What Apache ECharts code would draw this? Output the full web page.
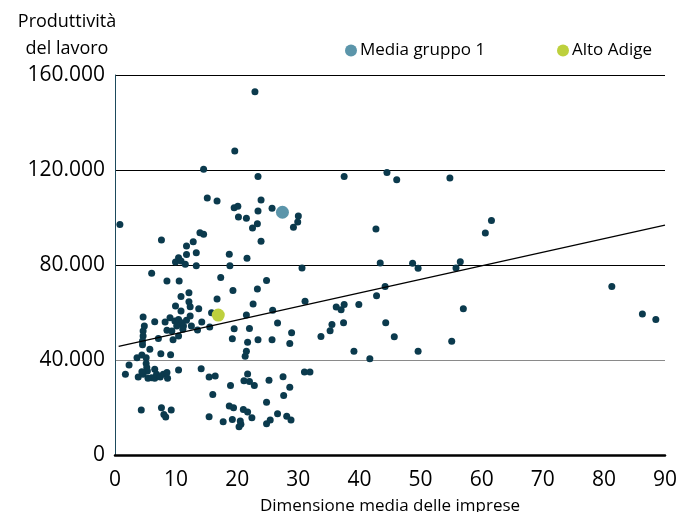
<!DOCTYPE html>
<html>
<head>
<meta charset="utf-8">
<script src="https://cdn.jsdelivr.net/npm/echarts@6/dist/echarts.min.js"></script>
<style>
html,body{margin:0;padding:0;background:#fff;}
#chart{width:680px;height:512px;}
</style>
</head>
<body>
<div id="chart"></div>
<script>
// Dimensione media delle imprese (x) and Produttività del lavoro (y)
const regionX = [22.9,19.6,14.5,23.4,15.1,16.7,23.9,19.5,20.1,23.4,25.7,30.0,29.9,29.2,20.2,21.5,23.3,22.5,23.9,0.8,7.6,13.9,14.5,12.8,11.7,37.5,44.5,46.1,54.8,42.7,61.6,60.6,
13.3,11.7,18.7,21.6,10.4,9.9,10.8,11.5,13.3,18.8,30.6,43.4,48.7,49.6,56.5,55.8,6.0,8.5,10.5,17.3,24.8,23.3,19.3,81.3,44.2,42.8,12.1,10.8,16.7,12.1,9.9,12.3,13.7,10.8,22.6,31.1,25.8,36.2,37.0,37.5,39.9,57.0,
15.8,4.6,6.5,8.2,9.0,9.8,10.4,10.9,11.7,12.3,10.1,11.2,8.5,9.3,10.4,11.1,12.5,14.2,13.5,15.5,7.1,9.5,4.6,4.6,4.5,4.8,21.5,26.6,19.5,22.0,28.9,35.5,35.2,33.7,19.2,21.7,23.4,25.7,28.6,37.4,44.3,45.7,55.1,86.3,88.5,4.5,5.7,7.5,9.1,21.5,21.3,39.1,41.7,49.6,
3.6,4.4,5.1,2.3,5.1,5.2,5.3,1.7,3.8,4.6,4.4,5.4,6.0,6.5,6.5,6.8,7.4,7.9,8.5,8.6,10.4,14.1,15.4,16.4,16.0,21.7,21.1,22.0,22.8,18.9,25.2,27.5,28.6,27.6,24.8,31.0,31.9,4.3,7.6,9.2,8.0,8.3,15.4,17.7,18.7,19.4,21.0,21.7,22.4,19.2,20.5,20.6,20.3,24.8,25.4,26.6,28.1,28.8];
const regionY = [153000,128000,120300,117300,108200,107000,107400,104100,104700,102700,103900,100600,98100,95900,100200,99700,97400,95600,90000,97100,90500,93600,92900,89800,88000,117300,118900,115900,116600,95200,98700,93500,
85200,84400,84500,82800,83100,81300,81700,80300,79700,79700,78700,80800,80700,78600,81400,78700,76500,73300,73300,74700,73500,69900,69300,70900,70900,67100,68300,66700,65700,64500,62700,62400,61600,60600,63600,64700,60900,62300,61200,63400,63400,61600,
59900,58100,56100,56000,57800,56400,57100,55700,56700,58500,54300,54300,52500,52200,50100,52900,54300,56000,52600,53900,49100,48500,52200,50100,48000,54300,58900,55600,53200,53300,51500,55000,52300,49900,49000,47500,48500,48500,47000,55700,55700,49800,47900,59400,57100,46400,44500,42600,42200,43700,41600,43700,40500,43700,
41000,42100,41000,37900,38500,36800,35400,34000,32800,34000,35100,32300,32500,36100,32300,34000,32800,34000,34700,32300,35800,36300,32800,33300,25500,34100,31300,30900,29300,29300,31500,33000,28500,25100,22200,34900,34900,18900,19900,18900,17100,16000,16100,14000,20600,19900,19200,18100,15700,15000,14300,12900,11900,13200,14700,17400,16300,14700];

const mediaX = [27.4];
const mediaY = [102200];
const altoX = [16.9];
const altoY = [58900];

const trendX = [0.6, 90];
const trendY = [45700, 96800];

const xTicks = [0,10,20,30,40,50,60,70,80,90];
const yTicks = [0,40000,80000,120000,160000];

const FONT = "'Open Sans', Roboto, sans-serif";

function pairs(xs, ys){ return xs.map((x,i)=>[x, ys[i]]); }
function itFmt(v){ return v === 0 ? '0' : String(v).replace(/\B(?=(\d{3})+(?!\d))/g, '.'); }

const chart = echarts.init(document.getElementById('chart'), null, {renderer:'canvas'});
chart.setOption({
  animation:false,
  backgroundColor:'#fff',
  textStyle:{fontFamily:FONT},
  title:{
    text:'Produttività\ndel lavoro',
    left:62, top:3, textAlign:'center',
    textStyle:{fontFamily:FONT, fontSize:18, fontWeight:'normal', color:'#000', lineHeight:27}
  },
  legend:[
    {data:['Media gruppo 1'], left:340, top:37, icon:'circle', itemWidth:12, itemHeight:12, itemGap:0,
     textStyle:{fontFamily:FONT, fontSize:17, color:'#000', padding:[0,0,0,-2]}},
    {data:['Alto Adige'], left:552, top:37, icon:'circle', itemWidth:12, itemHeight:12, itemGap:0,
     textStyle:{fontFamily:FONT, fontSize:17, color:'#000', padding:[0,0,0,-2]}}
  ],
  grid:{left:115, right:15, top:75, bottom:57, containLabel:false, outerBoundsMode:'none'},
  xAxis:{
    type:'value', min:0, max:90, interval:10,
    name:'Dimensione media delle imprese', nameLocation:'middle', nameGap:43,
    nameTextStyle:{fontFamily:FONT, fontSize:17, color:'#000'},
    axisLine:{show:true, onZero:false, lineStyle:{color:'#000', width:2.5}},
    axisTick:{show:false},
    axisLabel:{fontFamily:FONT, fontSize:21, color:'#000', margin:15},
    splitLine:{show:false}
  },
  yAxis:{
    type:'value', min:0, max:160000, interval:40000,
    axisLine:{show:true, lineStyle:{color:'#1d4a5c', width:1}},
    axisTick:{show:false},
    axisLabel:{fontFamily:FONT, fontSize:21, color:'#000', margin:10, formatter:itFmt},
    splitLine:{show:true, lineStyle:{color:['#000','#8a8a8a','#000','#000','#000'], width:1}}
  },
  series:[
    {name:'Regioni', type:'scatter', data:pairs(regionX, regionY), symbolSize:7,
     itemStyle:{color:'#0b3a4d', opacity:1}, z:3},
    {name:'Trend', type:'line', data:pairs(trendX, trendY), symbol:'none',
     lineStyle:{color:'#000', width:1.3}, z:4, silent:true},
    {name:'Media gruppo 1', type:'scatter', data:pairs(mediaX, mediaY), symbolSize:13,
     itemStyle:{color:'#5b95aa', opacity:1}, z:5},
    {name:'Alto Adige', type:'scatter', data:pairs(altoX, altoY), symbolSize:13,
     itemStyle:{color:'#bdd03d', opacity:1}, z:5}
  ]
});
</script>
</body>
</html>
